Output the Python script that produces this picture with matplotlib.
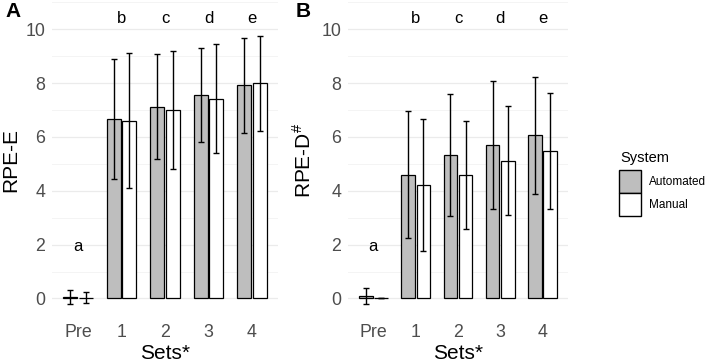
import numpy as np
import matplotlib
matplotlib.use("Agg")
import matplotlib.pyplot as plt
from matplotlib.patches import Patch

plt.rcParams['font.family'] = ['Liberation Sans', 'DejaVu Sans']
plt.rcParams['mathtext.fontset'] = 'custom'
plt.rcParams['mathtext.rm'] = 'Liberation Sans'

sets = ["Pre", "1", "2", "3", "4"]
letters = ["a", "b", "c", "d", "e"]
letter_y = [1.75, 10.25, 10.25, 10.25, 10.25]

# RPE-E (panel A)
rpe_e_auto = [0.05, 6.68, 7.12, 7.55, 7.92]
rpe_e_auto_sd = [0.27, 2.23, 1.95, 1.75, 1.77]
rpe_e_man = [0.03, 6.60, 7.00, 7.42, 7.99]
rpe_e_man_sd = [0.20, 2.51, 2.19, 2.02, 1.76]

# RPE-D (panel B)
rpe_d_auto = [0.09, 4.60, 5.34, 5.70, 6.06]
rpe_d_auto_sd = [0.30, 2.35, 2.26, 2.39, 2.17]
rpe_d_man = [0.0, 4.23, 4.59, 5.12, 5.49]
rpe_d_man_sd = [0.0, 2.45, 2.00, 2.02, 2.16]

W, H = 706, 362
fig = plt.figure(figsize=(W / 100, H / 100), dpi=100)


def px_axes(left, right, top, bottom):
    return fig.add_axes([left / W, (H - bottom) / H, (right - left) / W, (bottom - top) / H])


def panel(ax, auto, auto_sd, man, man_sd, ylabel, label_x):
    x = np.arange(len(sets))
    off, bw = 0.18, 0.32
    ax.bar(x - off, auto, bw, color='#BEBEBE', edgecolor='black', linewidth=0.9, zorder=3)
    ax.bar(x + off, man, bw, color='white', edgecolor='black', linewidth=0.9, zorder=3)
    ax.errorbar(x - off, auto, yerr=auto_sd, fmt='none', ecolor='black',
                elinewidth=1.0, capsize=2.4, capthick=1.0, zorder=4)
    ax.errorbar(x + off, man, yerr=man_sd, fmt='none', ecolor='black',
                elinewidth=1.0, capsize=2.4, capthick=1.0, zorder=4)
    for xi, t, yy in zip(x, letters, letter_y):
        ax.text(xi, yy, t, ha='center', va='baseline', fontsize=12, color='black')
    ax.set_xlim(-0.6, 4.6)
    ax.set_ylim(-0.8, 11.05)
    ax.set_xticks(x)
    ax.set_xticklabels(sets)
    ax.set_yticks([0, 2, 4, 6, 8, 10])
    ax.set_yticks([1, 3, 5, 7, 9, 11], minor=True)
    ax.grid(axis='y', which='major', color='#EBEBEB', linewidth=0.9, zorder=0)
    ax.grid(axis='y', which='minor', color='#F2F2F2', linewidth=0.6, zorder=0)
    ax.grid(axis='x', visible=False)
    ax.tick_params(axis='both', which='both', length=0, labelsize=12.8, labelcolor='#4D4D4D')
    ax.tick_params(axis='y', pad=5)
    ax.tick_params(axis='x', pad=3)
    for s in ax.spines.values():
        s.set_visible(False)
    ax.set_xlabel("Sets*", fontsize=15, labelpad=2)
    ax.set_ylabel(ylabel, fontsize=15)
    ax.yaxis.set_label_coords(label_x, 0.5)


axA = px_axes(52, 278, 1, 320)
panel(axA, rpe_e_auto, rpe_e_auto_sd, rpe_e_man, rpe_e_man_sd, "RPE-E", -0.142)

axB = px_axes(348, 568, 1, 320)
panel(axB, rpe_d_auto, rpe_d_auto_sd, rpe_d_man, rpe_d_man_sd, r"RPE-D$^{\#}$", -0.15)

fig.text(5 / W, 1 - 2 / H, "A", fontsize=15, fontweight='bold', va='top', ha='left')
fig.text(296 / W, 1 - 2 / H, "B", fontsize=15, fontweight='bold', va='top', ha='left')

# legend: title drawn separately so the gap to the keys matches
fig.text(620 / W, 1 - 158 / H, "System", fontsize=10.5, va='center', ha='left')
handles = [Patch(facecolor='#BEBEBE', edgecolor='black', linewidth=1.0),
           Patch(facecolor='white', edgecolor='black', linewidth=1.0)]
leg = fig.legend(handles, ["Automated", "Manual"],
                 loc='upper left', bbox_to_anchor=(619 / W, 1 - 170 / H),
                 frameon=False, fontsize=8.5,
                 handlelength=1.9, handleheight=2.6, handletextpad=0.6,
                 labelspacing=0.05, borderpad=0, borderaxespad=0)

fig.savefig("out.png", dpi=100)
